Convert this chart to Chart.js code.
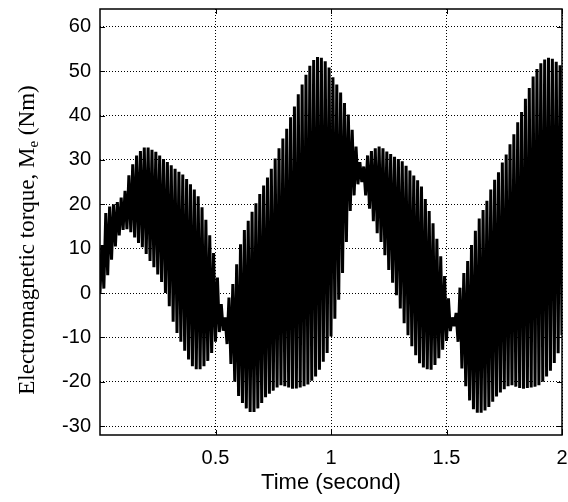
<!DOCTYPE html>
<html><head><meta charset="utf-8">
<script src="https://cdn.jsdelivr.net/npm/chart.js@4.4.0/dist/chart.umd.min.js"></script>
<style>html,body{margin:0;padding:0;background:#fff;}#wrap{width:568px;height:502px;}</style>
</head><body><div id="wrap"><canvas id="c" width="568" height="502"></canvas></div>
<script>
// Successive oscillation maxima (Nm), one per cycle
const peaks = [
  10.8, 18, 19.5, 20, 20.5, 21.5, 23, 26.5, 29, 31,
  32, 32.8, 32.8, 32.3, 31.8, 31, 30.2, 29.5, 28.8, 28,
  27.3, 26.7, 25.7, 24.5, 23.3, 21.8, 19.3, 16.5, 13, 9,
  3.5, -2.5, -5.5, -1, 2, 6.5, 11, 14.2, 16.3, 18.3,
  20.2, 22.3, 24.2, 26, 28, 30.3, 32.6, 34.8, 37, 39.6,
  42, 44.8, 47, 49.2, 51.2, 52.5, 53.2, 53, 52.2, 50.8,
  48.6, 47, 45.2, 42.8, 40.2, 36.8, 33, 29.5, 28.5, 31,
  32, 32.6, 33, 32.6, 31.9, 31.3, 30.7, 30.2, 29.7, 28.7,
  27.6, 26.5, 25.4, 24, 21.2, 18.5, 15.7, 12.2, 8.3, 3.8,
  -1.2, -5.5, -4.5, 1.2, 4.5, 7.2, 10.8, 14, 16.8, 18.7,
  20.8, 23.3, 25.5, 27.2, 29.4, 31.2, 33.5, 35.8, 38.5, 40.8,
  43.8, 46.2, 48.8, 50.5, 51.8, 52.6, 53, 52.8, 52.1, 51.3
];
// Successive oscillation minima (Nm)
const troughs = [
  0, 1, 4, 7.5, 10.5, 13, 14.2, 14.4, 13.7, 12.5,
  11.3, 10.3, 8.8, 7.2, 5.8, 4.2, 2.5, 0, -3, -6.5,
  -9, -11, -13, -15, -16.5, -17.2, -17.2, -16.5, -15.3, -13.5,
  -11, -8.8, -8.5, -11.5, -16, -20, -23.2, -24.8, -26, -26.8,
  -26.8, -26, -24.8, -23.5, -22.7, -22, -21.3, -20.8, -21, -21.3,
  -21.6, -21.5, -21.3, -21, -20.6, -19.8, -18.8, -17.3, -15.5, -13.5,
  -9.8, -5.8, -1.5, 4.5, 11.5, 18.5, 22, 24.5, 25, 22,
  19, 16.2, 13.5, 11.5, 8.5, 5.2, 2.3, -0.5, -3.5, -6.8,
  -9.5, -12, -14, -15.8, -16.8, -17.2, -17.3, -16.2, -14.7, -12.8,
  -10.8, -8.6, -7.5, -11, -17, -21, -24.2, -26.2, -27, -27,
  -26.5, -25.7, -24.5, -23.3, -22.4, -21.7, -21, -20.8, -21.1, -21.4,
  -21.6, -21.4, -21.3, -21.1, -20.8, -20, -18.8, -17.5, -15.8, -13.6,
  -9.5
];
const halfPeriod = 1 / 120; // seconds between a minimum and the next maximum (60 Hz)
const xTicks = [0.5, 1, 1.5, 2];
const yTicks = [-30, -20, -10, 0, 10, 20, 30, 40, 50, 60];
const xRange = [0, 2];
const yRange = [-32, 64];
const xTitle = 'Time (second)';
const yTitleParts = ['Electromagnetic torque, M', 'e', ' (Nm)'];

// build the sample table: minimum, maximum, minimum, ...
const points = [];
for (let k = 0; k < troughs.length; k++) {
  points.push({ x: 2 * k * halfPeriod, y: troughs[k] });
  if (k < peaks.length) points.push({ x: (2 * k + 1) * halfPeriod, y: peaks[k] });
}

const frame = {
  id: 'frame',
  afterDraw(chart) {
    const { ctx, chartArea: a, scales: { x, y } } = chart;
    ctx.save();
    ctx.strokeStyle = '#000';
    ctx.lineWidth = 1;
    const line = (x1, y1, x2, y2) => { ctx.beginPath(); ctx.moveTo(x1, y1); ctx.lineTo(x2, y2); ctx.stroke(); };
    for (const v of xTicks) {
      const px = Math.round(x.getPixelForValue(v)) + 0.5;
      line(px, a.bottom, px, a.bottom - 5);
      line(px, a.top, px, a.top + 5);
    }
    for (const v of yTicks) {
      const py = Math.round(y.getPixelForValue(v)) + 0.5;
      line(a.left, py, a.left + 5, py);
      line(a.right, py, a.right - 5, py);
    }
    ctx.lineWidth = 1.5;
    ctx.strokeRect(a.left, a.top, a.right - a.left, a.bottom - a.top);

    // y axis title with subscript
    const big = '23px "Liberation Serif", "Times New Roman", serif';
    const small = '15px "Liberation Serif", "Times New Roman", serif';
    ctx.fillStyle = '#000';
    ctx.textBaseline = 'alphabetic';
    ctx.font = big;
    const w1 = ctx.measureText(yTitleParts[0]).width;
    const w3 = ctx.measureText(yTitleParts[2]).width;
    ctx.font = small;
    const w2 = ctx.measureText(yTitleParts[1]).width;
    const total = w1 + w2 + w3;
    ctx.translate(34, 240);
    ctx.rotate(-Math.PI / 2);
    let cx = -total / 2;
    ctx.font = big;
    ctx.fillText(yTitleParts[0], cx, 0);
    cx += w1;
    ctx.font = small;
    ctx.fillText(yTitleParts[1], cx, 4);
    cx += w2;
    ctx.font = big;
    ctx.fillText(yTitleParts[2], cx, 0);
    ctx.restore();
  }
};

const tickFont = { family: '"Liberation Sans", Arial, sans-serif', size: 20 };
new Chart(document.getElementById('c'), {
  type: 'line',
  data: {
    datasets: [{
      data: points,
      borderColor: '#000',
      borderWidth: 3,
      borderJoinStyle: 'bevel',
      borderCapStyle: 'butt',
      pointRadius: 0,
      fill: false,
      tension: 0
    }]
  },
  options: {
    responsive: false,
    animation: false,
    events: [],
    layout: { padding: { top: 9, right: 6, left: 0, bottom: 0 } },
    plugins: { legend: { display: false }, tooltip: { enabled: false } },
    scales: {
      x: {
        type: 'linear', min: xRange[0], max: xRange[1],
        afterBuildTicks: s => { s.ticks = xTicks.map(v => ({ value: v })); },
        afterFit: s => { s.height = 67; s.paddingLeft = 0; s.paddingRight = 0; },
        ticks: { font: tickFont, color: '#000', padding: 11, maxRotation: 0, callback: v => String(v) },
        grid: { color: '#000', lineWidth: 1, drawTicks: false },
        border: { display: false, dash: [1, 2] },
        title: { display: true, text: xTitle, color: '#000',
                 font: { family: '"Liberation Sans", Arial, sans-serif', size: 22 },
                 padding: { top: 0, bottom: 6 } }
      },
      y: {
        type: 'linear', min: yRange[0], max: yRange[1],
        afterBuildTicks: s => { s.ticks = yTicks.map(v => ({ value: v })); },
        afterFit: s => { s.width = 100; s.paddingTop = 0; s.paddingBottom = 0; },
        ticks: { font: tickFont, color: '#000', padding: 9, callback: v => String(v) },
        grid: { color: '#000', lineWidth: 1, drawTicks: false },
        border: { display: false, dash: [1, 2] }
      }
    }
  },
  plugins: [frame]
});
</script>
</body></html>
